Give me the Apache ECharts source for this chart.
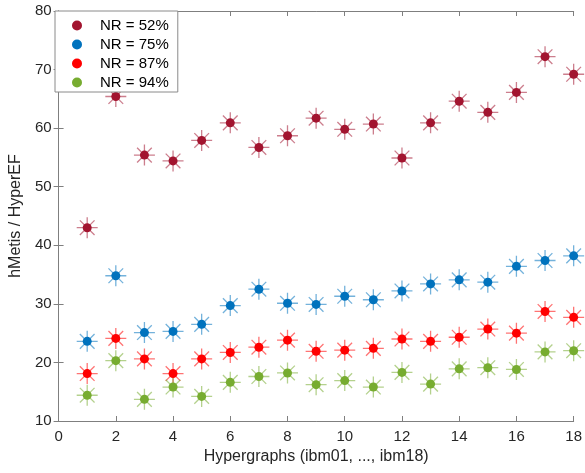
<!DOCTYPE html>
<html>
<head>
<meta charset="utf-8">
<script src="https://cdn.jsdelivr.net/npm/echarts@6/dist/echarts.min.js"></script>
<style>
  html, body { margin: 0; padding: 0; background: #fff; }
  #chart { width: 585px; height: 473px; }
</style>
</head>
<body>
<div id="chart"></div>
<script>
// Hypergraph index (ibm01 ... ibm18)
const graphs = [1, 2, 3, 4, 5, 6, 7, 8, 9, 10, 11, 12, 13, 14, 15, 16, 17, 18];

const seriesNames = ['NR = 52%', 'NR = 75%', 'NR = 87%', 'NR = 94%'];
const colors = ['#A2142F', '#0072BD', '#FF0000', '#77AC30'];

const nr52 = [43.0, 65.4, 55.4, 54.4, 57.9, 60.9, 56.7, 58.7, 61.7, 59.8, 60.7, 54.9, 60.9, 64.6, 62.7, 66.1, 72.2, 69.2];
const nr75 = [23.6, 34.8, 25.1, 25.3, 26.5, 29.7, 32.5, 30.1, 29.9, 31.3, 30.7, 32.2, 33.4, 34.1, 33.7, 36.4, 37.4, 38.2];
const nr87 = [18.1, 24.1, 20.6, 18.1, 20.6, 21.7, 22.6, 23.8, 21.9, 22.1, 22.4, 24.0, 23.6, 24.3, 25.7, 25.0, 28.7, 27.7];
const nr94 = [14.4, 20.3, 13.7, 15.8, 14.2, 16.6, 17.6, 18.2, 16.2, 16.9, 15.8, 18.3, 16.3, 18.9, 19.1, 18.8, 21.8, 22.0];

const allValues = [nr52, nr75, nr87, nr94];

const xTicks = { min: 0, max: 18, interval: 2 };
const yTicks = { min: 10, max: 80, interval: 10 };

const chart = echarts.init(document.getElementById('chart'), null, { renderer: 'canvas' });

const starPath = 'path://M10,0 L10,20 M0,10 L20,10 M3,3 L17,17 M3,17 L17,3';
const font = '"Liberation Sans", Arial, Helvetica, sans-serif';
const axisGray = '#7f7f7f';
const textDark = '#262626';

const series = [];
allValues.forEach((vals, i) => {
  const pts = graphs.map((g, k) => [g, vals[k]]);
  // light star behind each point
  series.push({
    name: seriesNames[i] + ' star',
    type: 'scatter',
    data: pts,
    symbol: starPath,
    symbolSize: 21,
    silent: true,
    itemStyle: {
      color: 'none',
      borderColor: colors[i],
      borderWidth: 1.3,
      opacity: 0.55
    },
    z: 2
  });
  series.push({
    name: seriesNames[i],
    type: 'scatter',
    data: pts,
    symbol: 'circle',
    symbolSize: 9,
    itemStyle: { color: colors[i], opacity: 1 },
    z: 3
  });
});

const option = {
  animation: false,
  backgroundColor: '#fff',
  textStyle: { fontFamily: font },
  grid: { left: 55, right: 10, top: 11, bottom: 52, containLabel: false },
  legend: {
    data: seriesNames,
    orient: 'vertical',
    left: 55,
    top: 11,
    padding: [7, 9, 2, 17],
    itemGap: 4,
    itemWidth: 10,
    itemHeight: 10,
    icon: 'circle',
    backgroundColor: '#fff',
    borderColor: '#8a8a8a',
    borderWidth: 1,
    borderRadius: 0,
    textStyle: { fontSize: 15, color: '#000', fontFamily: font, padding: [0, 0, 0, 13] },
    z: 10
  },
  xAxis: [
    {
      type: 'value',
      min: xTicks.min, max: xTicks.max, interval: xTicks.interval,
      name: 'Hypergraphs (ibm01, ..., ibm18)',
      nameLocation: 'middle',
      nameGap: 27,
      nameTextStyle: { fontSize: 16, color: textDark, fontFamily: font },
      axisLine: { lineStyle: { color: axisGray, width: 1 } },
      axisTick: { inside: true, length: 5, lineStyle: { color: axisGray } },
      axisLabel: { fontSize: 15, color: textDark, margin: 8, fontFamily: font },
      splitLine: { show: false }
    },
    {
      type: 'value',
      position: 'top',
      min: xTicks.min, max: xTicks.max, interval: xTicks.interval,
      axisLine: { lineStyle: { color: axisGray, width: 1 } },
      axisTick: { inside: true, length: 5, lineStyle: { color: axisGray } },
      axisLabel: { show: false },
      splitLine: { show: false }
    }
  ],
  yAxis: [
    {
      type: 'value',
      min: yTicks.min, max: yTicks.max, interval: yTicks.interval,
      name: 'hMetis / HyperEF',
      nameLocation: 'middle',
      nameGap: 34,
      nameTextStyle: { fontSize: 16, color: textDark, fontFamily: font },
      axisLine: { show: true, lineStyle: { color: axisGray, width: 1 } },
      axisTick: { show: true, inside: true, length: 5, lineStyle: { color: axisGray } },
      axisLabel: { fontSize: 15, color: textDark, margin: 7, fontFamily: font },
      splitLine: { show: false }
    },
    {
      type: 'value',
      position: 'right',
      min: yTicks.min, max: yTicks.max, interval: yTicks.interval,
      axisLine: { show: true, lineStyle: { color: axisGray, width: 1 } },
      axisTick: { show: true, inside: true, length: 5, lineStyle: { color: axisGray } },
      axisLabel: { show: false },
      splitLine: { show: false }
    }
  ],
  series: series
};

chart.setOption(option);
</script>
</body>
</html>
